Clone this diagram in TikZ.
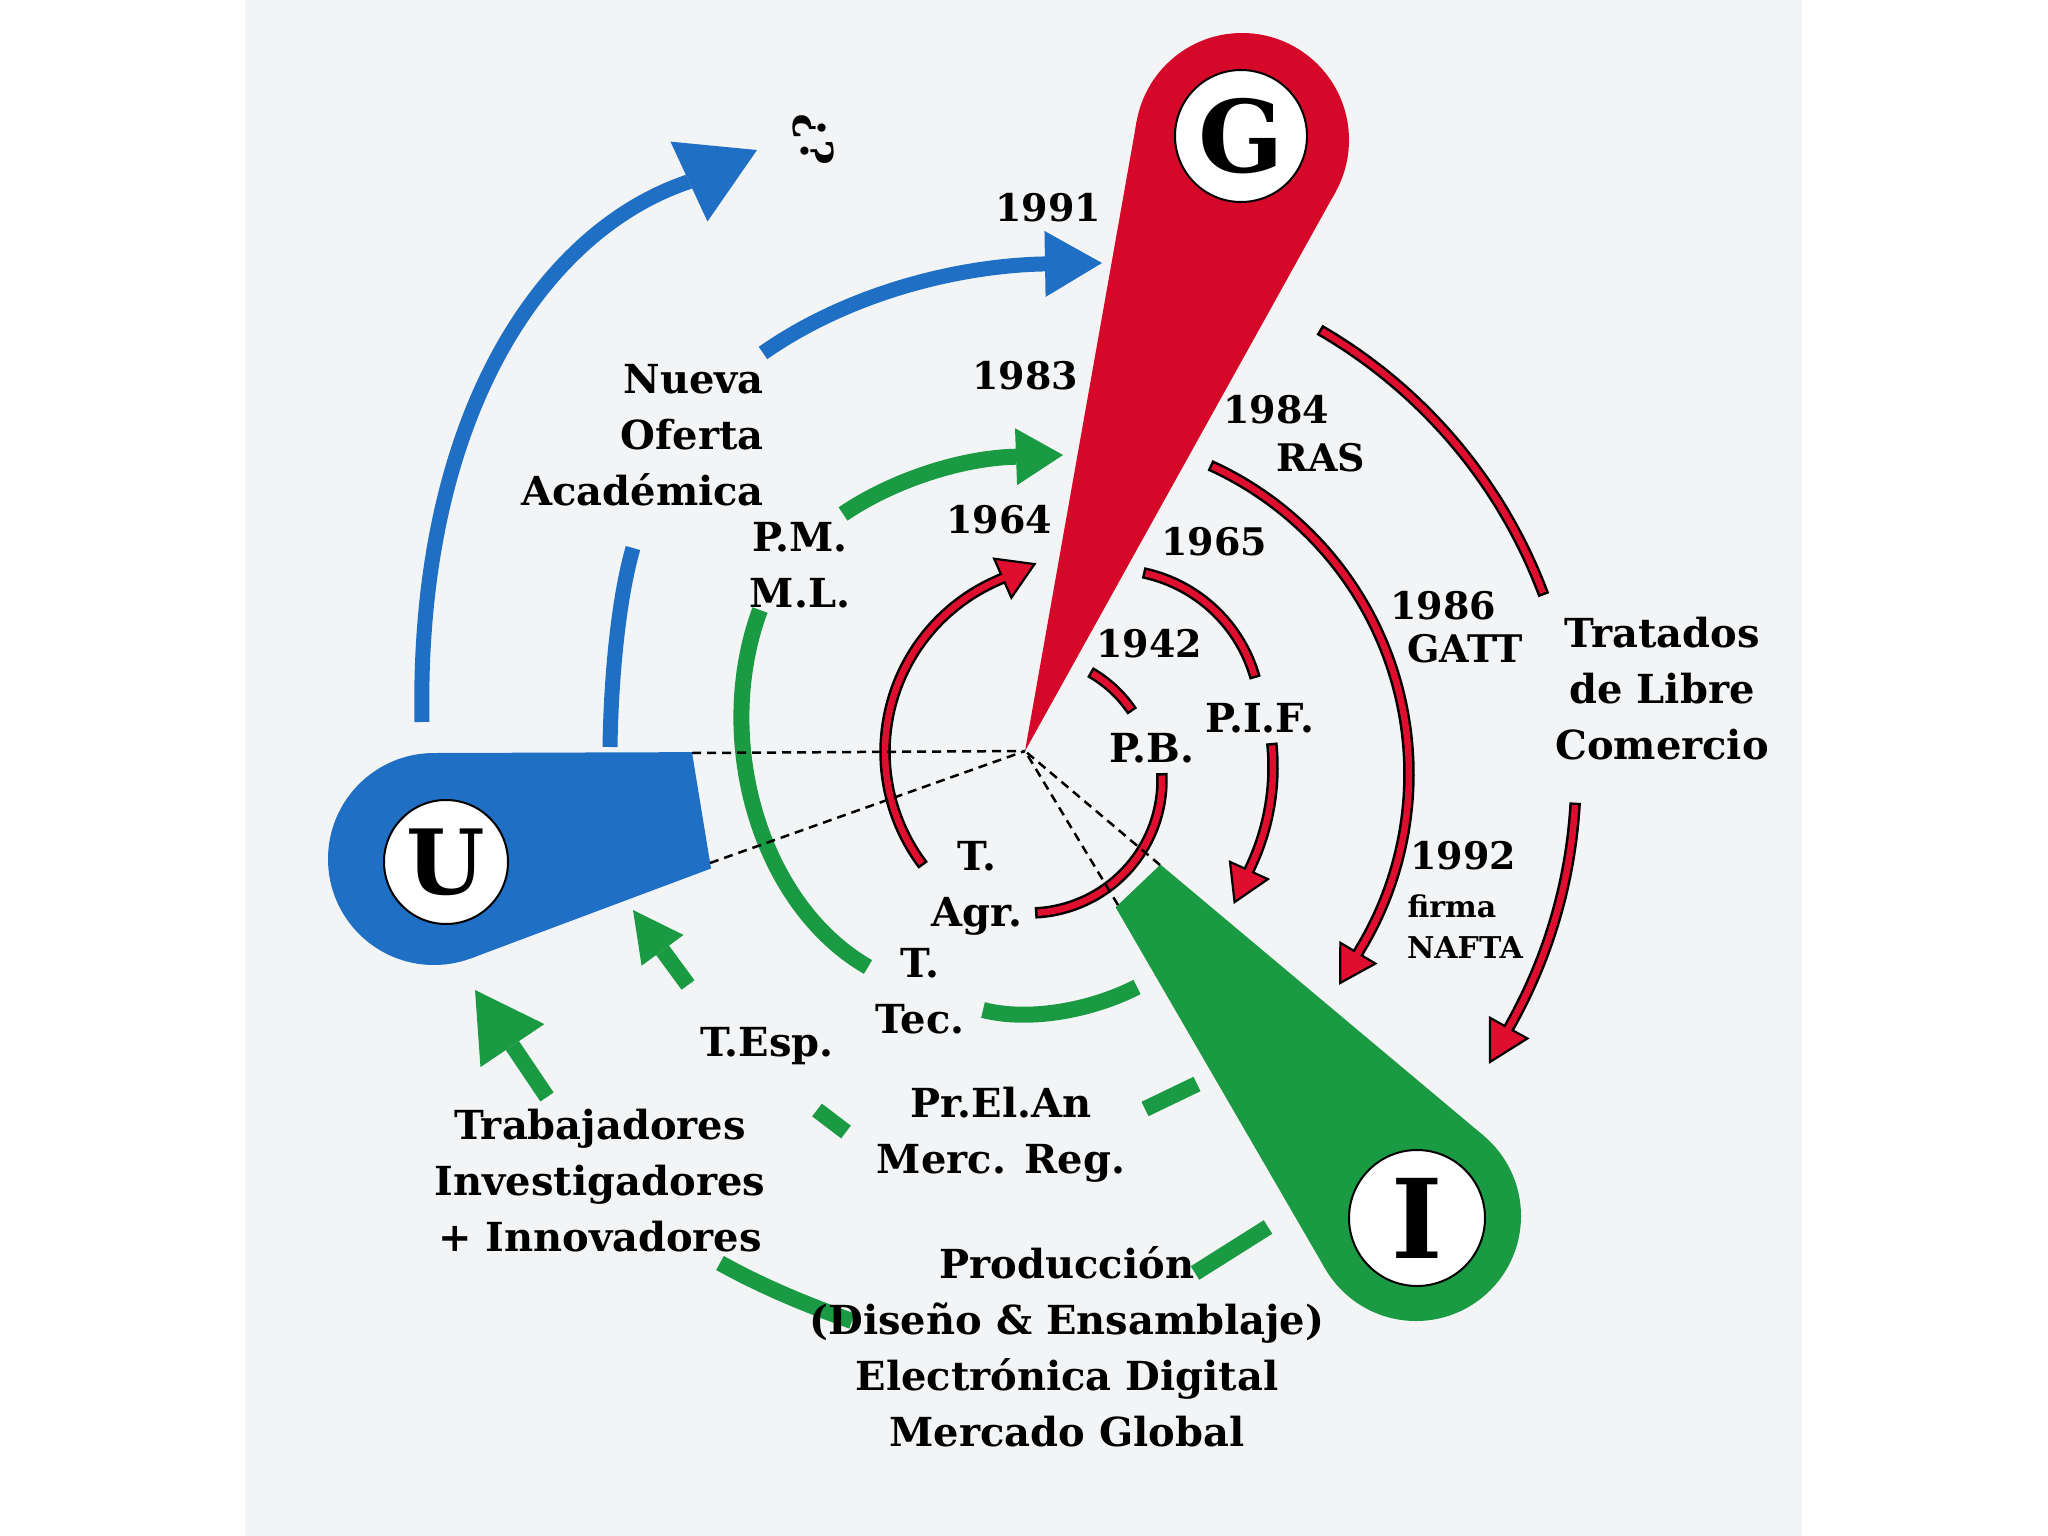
\documentclass[tikz,border=0pt]{standalone}
\usepackage{fontspec}
\setmainfont{DejaVu Serif}
\usetikzlibrary{calc,arrows.meta}
\definecolor{bgc}{RGB}{243,244,245}
\definecolor{ublue}{RGB}{31,111,196}
\definecolor{gred}{RGB}{214,8,42}
\definecolor{ared}{RGB}{224,14,46}
\definecolor{igreen}{RGB}{26,154,66}
\newcommand\redarrow[2]{%
  \draw[black,line width=11.5pt,-{Triangle[#1,fill=ared,line width=2.2pt]}] #2;
  \draw[ared,line width=6.5pt,shorten <=2.5pt,shorten >=28pt] #2;}
\newcommand\redbar[1]{%
  \draw[black,line width=11.5pt] #1;
  \draw[ared,line width=6.5pt,shorten <=2.5pt,shorten >=2.5pt] #1;}
\begin{document}
\begin{tikzpicture}[x=1pt,y=-1pt,
  lbl/.style={font=\bfseries\fontsize{40}{56}\selectfont, inner sep=0pt, align=center},
  yr/.style={font=\bfseries\fontsize{38}{48}\selectfont, inner sep=0pt},
  sm/.style={font=\bfseries\fontsize{30}{38}\selectfont, inner sep=0pt},
  badge/.style={circle, fill=white, draw=black, line width=2pt, inner sep=0pt},
  drop/.style={circle, inner sep=0pt, outer sep=0pt},
  bluel/.style={draw=ublue, line width=15pt},
  greenl/.style={draw=igreen, line width=16pt},
  dashl/.style={draw=black, line width=2.5pt, dash pattern=on 9pt off 6pt}]
\useasboundingbox (0,0) rectangle (2048,1536);
\fill[white] (0,0) rectangle (2048,1536);
\fill[bgc] (245,0) rectangle (1802,1536);

\coordinate (O) at (1025,751);
% ---------- G teardrop
\node[drop, minimum size=214pt, fill=gred] (Gc) at (1242,140) {};
\fill[gred] (O) -- (tangent cs:node=Gc,point={(O)},solution=1) -- (Gc.center)
  -- (tangent cs:node=Gc,point={(O)},solution=2) -- cycle;
% ---------- U teardrop (truncated)
\node[drop, minimum size=212pt, fill=ublue] (Uc) at (434,859) {};
\begin{scope}
  \clip (667,600) -- (749,1100) -- (0,1100) -- (0,600) -- cycle;
  \fill[ublue] (O) -- (tangent cs:node=Uc,point={(O)},solution=1) -- (Uc.center)
    -- (tangent cs:node=Uc,point={(O)},solution=2) -- cycle;
\end{scope}
% ---------- I teardrop (truncated)
\node[drop, minimum size=210pt, fill=igreen] (Ic) at (1416,1216) {};
\begin{scope}
  \clip (1286,745) -- (992,1025) -- (1300,1540) -- (1800,1540) -- (1800,745) -- cycle;
  \fill[igreen] (O) -- (tangent cs:node=Ic,point={(O)},solution=1) -- (Ic.center)
    -- (tangent cs:node=Ic,point={(O)},solution=2) -- cycle;
\end{scope}

% ---------- badges
\node[badge, minimum size=132pt, font=\bfseries\fontsize{100}{100}\selectfont] (G) at (1241,136) {G};
\node[badge, minimum size=124pt, font=\bfseries\fontsize{90}{90}\selectfont] (U) at (446,862) {U};
\node[badge, minimum size=136pt, font=\bfseries\fontsize{110}{110}\selectfont] (I) at (1417,1218) {I};

% ---------- blue arrows
\coordinate (b1s) at (422,722);
\coordinate (b1t) at (757,150);
\draw[bluel, -{Triangle[length=75pt,width=88pt,line width=0pt]}]
  (b1s) .. controls (416,420) and (540,232) .. (688,182) -- (b1t);
\draw[bluel] (610,747) .. controls (611,680) and (618,600) .. (633,548);
\coordinate (b2t) at (1102,263);
\draw[bluel, -{Triangle[length=57pt,width=66pt,line width=0pt]}]
  (763,353) .. controls (850,292) and (960,266) .. (1042,264) -- (b2t);

% ---------- green arrows
\draw[greenl] (868,967) .. controls (760,905) and (712,740) .. (760,610);
\coordinate (g1t) at (1063,455);
\draw[greenl, -{Triangle[length=47pt,width=57pt,line width=0pt]}]
  (843,514) .. controls (890,482) and (955,460) .. (1008,457) -- (g1t);
\draw[greenl] (983,1010) .. controls (1030,1022) and (1092,1010) .. (1137,987);
\draw[greenl] (1197,1084) -- (1145,1109);
\draw[greenl] (846,1132) -- (817,1110);
\coordinate (g2s) at (688,985);
\coordinate (g2t) at (633,910);
\draw[greenl, -{Triangle[length=50pt,width=52pt,line width=0pt]}] (g2s) -- (g2t);
\draw[greenl] (1268,1227) -- (1195,1273);
\draw[greenl] (852,1321) .. controls (810,1306) and (765,1288) .. (720,1263);
\coordinate (g3s) at (547,1097);
\coordinate (g3t) at (475,990);
\draw[greenl, -{Triangle[length=67pt,width=77pt,line width=0pt]}] (g3s) -- (g3t);

% ---------- red arrows
\redbar{plot[domain=-60.5:-33.6,samples=20,variable=\t] ({1029+124*cos(\t)},{780+124*sin(\t)})}
\redbar{plot[domain=-3:87.4,samples=40,variable=\t] ({1029+133*cos(\t)},{780+133*sin(\t)})}
\redarrow{length=38pt,width=46pt}{plot[domain=142.7:246.1,samples=50,variable=\t] ({1072+187*cos(\t)},{752+187*sin(\t)}) -- ({1072+187*cos(246.1)-44*sin(246.1)},{752+187*sin(246.1)+44*cos(246.1)})}
\redbar{plot[domain=-78.1:-15.5,samples=30,variable=\t] ({1112.6+148*cos(\t)},{717.6+148*sin(\t)})}
\redarrow{length=38pt,width=45pt}{plot[domain=-5.9:24.5,samples=30,variable=\t] ({1039+234*cos(\t)},{767+234*sin(\t)}) -- ({1039+234*cos(24.5)-44*sin(24.5)},{767+234*sin(24.5)+44*cos(24.5)})}
\redarrow{length=38pt,width=44pt}{plot[domain=-65.6:30.7,samples=80,variable=\t] ({1070+339*cos(\t)},{774+339*sin(\t)}) -- ({1070+339*cos(30.7)-44*sin(30.7)},{774+339*sin(30.7)+44*cos(30.7)})}
\redbar{plot[domain=-60:-20.4,samples=40,variable=\t] ({1063+513*cos(\t)},{774+513*sin(\t)})}
\redarrow{length=42pt,width=46pt}{plot[domain=3.2:28.9,samples=40,variable=\t] ({1063+513*cos(\t)},{774+513*sin(\t)}) -- ({1063+513*cos(28.9)-48*sin(28.9)},{774+513*sin(28.9)+48*cos(28.9)})}

% ---------- dashed rays
\coordinate (Ua) at (692,753);
\coordinate (Ub) at (710,863);
\coordinate (Ia) at (1160,865);
\coordinate (Ib) at (1118,905);
\draw[dashl] (Ua) -- (O);
\draw[dashl] (Ub) -- (O);
\draw[dashl] (Ia) -- (O);
\draw[dashl] (Ib) -- (O);

% ---------- labels
\node[font=\bfseries\fontsize{44}{44}\selectfont, rotate=90, inner sep=0pt] (q) at (813,140) {¿?};
\node[yr] (y1991) at (1048,208) {1991};
\node[lbl, align=right, anchor=east] (nueva) at (764,435) {Nueva\\Oferta\\Académica};
\node[yr] (y1983) at (1025,376) {1983};
\node[yr] (y1984) at (1276,410) {1984};
\node[yr] (ras) at (1321,458) {RAS};
\node[lbl] (pm) at (800,565) {P.M.\\M.L.};
\node[yr] (y1964) at (999,520) {1964};
\node[yr] (y1965) at (1214,542) {1965};
\node[yr] (y1942) at (1149,644) {1942};
\node[lbl] (pif) at (1260,718) {P.I.F.};
\node[lbl] (pb) at (1152,748) {P.B.};
\node[yr] (y1986) at (1443,606) {1986};
\node[yr] (gatt) at (1465,649) {GATT};
\node[lbl] (tlc) at (1662,689) {Tratados\\de Libre\\Comercio};
\node[yr] (y1992) at (1463,856) {1992};
\node[sm] (firma) at (1452,906) {firma};
\node[sm] (nafta) at (1465,948) {NAFTA};
\node[lbl] (tagr) at (977,888) {T.\\Agr.};
\node[lbl] (ttec) at (920,991) {T.\\Tec.};
\node[lbl] (tesp) at (767,1046) {T.Esp.};
\node[lbl] (prel) at (1001,1135) {Pr.El.An\\Merc. Reg.};
\node[lbl] (prod) at (1067,1347) {Producción\\(Diseño \& Ensamblaje)\\Electrónica Digital\\Mercado Global};
\node[lbl] (trab) at (600,1181) {Trabajadores\\Investigadores\\+ Innovadores};
\end{tikzpicture}
\end{document}
